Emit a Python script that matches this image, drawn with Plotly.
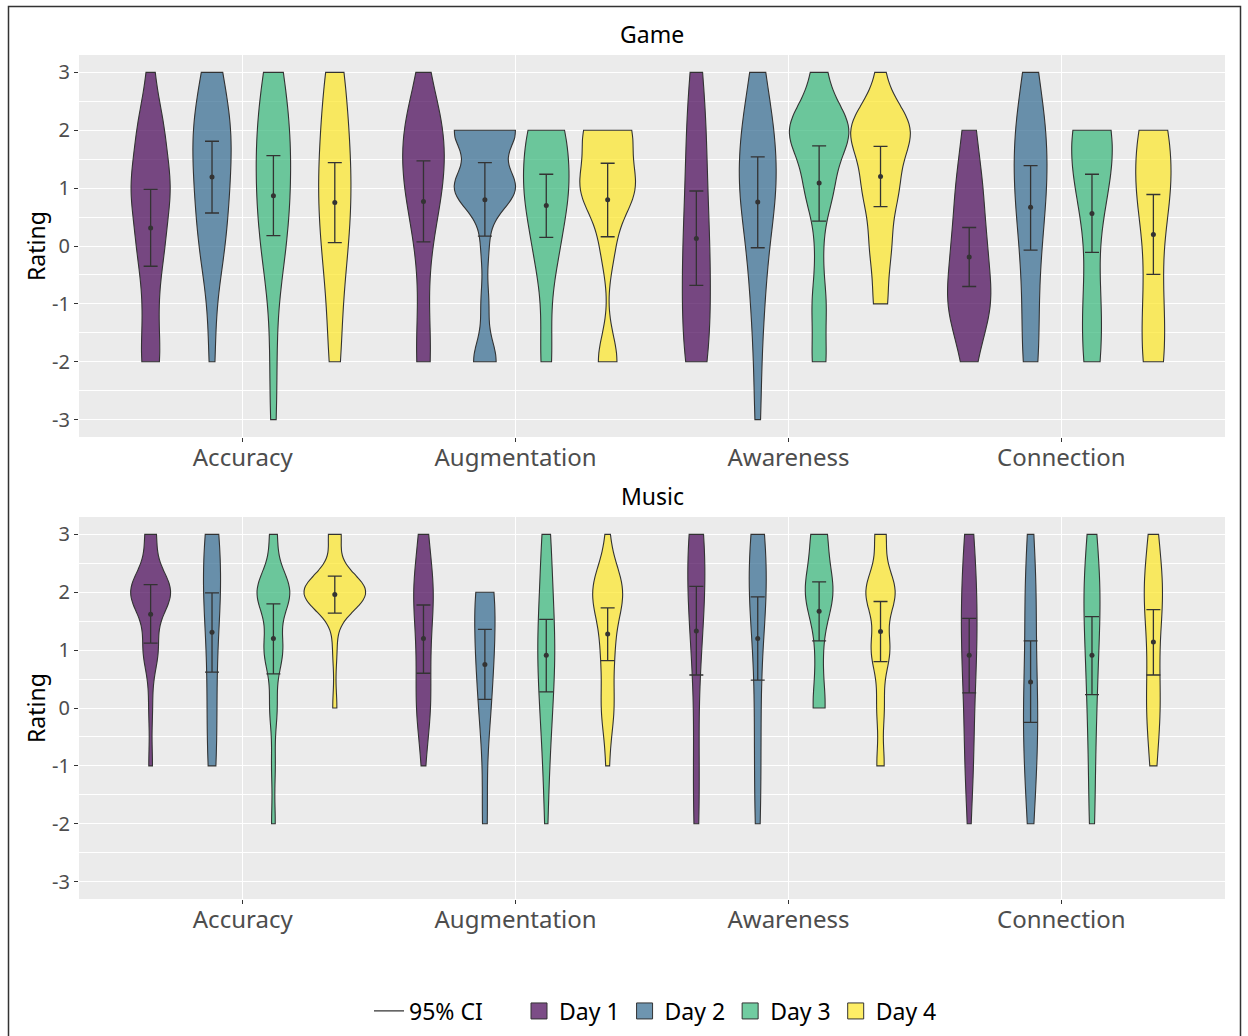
import numpy as np
import plotly.graph_objects as go

# ---------------- data ----------------
categories = ["Accuracy", "Augmentation", "Awareness", "Connection"]
days = ["Day 1", "Day 2", "Day 3", "Day 4"]
rating_levels = [-3, -2, -1, 0, 1, 2, 3]
y_ticks = [-3, -2, -1, 0, 1, 2, 3]

# number of responses at each rating level (-3..3); one row per day
game_accuracy_counts = [[0, 3, 2, 4, 6, 4, 1], [0, 1, 1, 4, 5, 6, 3],
                        [1, 1, 1, 4, 5, 5, 3], [0, 2, 2, 4, 5, 4, 3]]
game_augmentation_counts = [[0, 3, 1, 2, 6, 7, 1], [0, 3, 1, 1, 8, 8, 0],
                            [0, 2, 1, 4, 7, 6, 0], [0, 3, 0, 2, 8, 7, 0]]
game_awareness_counts = [[0, 4, 4, 4, 3, 3, 2], [1, 1, 2, 3, 6, 5, 2],
                         [0, 2, 2, 1, 4, 9, 2], [0, 0, 2, 3, 5, 9, 1]]
game_connection_counts = [[0, 2, 7, 5, 4, 2, 0], [0, 3, 2, 3, 5, 5, 2],
                          [0, 3, 3, 1, 5, 8, 0], [0, 4, 3, 2, 6, 5, 0]]
music_accuracy_counts = [[0, 0, 1, 1, 4, 11, 3], [0, 0, 3, 3, 3, 6, 5],
                         [0, 1, 1, 2, 5, 9, 2], [0, 0, 0, 1, 1, 15, 3]]
music_augmentation_counts = [[0, 0, 1, 5, 4, 7, 3], [0, 2, 1, 4, 6, 7, 0],
                             [0, 1, 2, 4, 6, 4, 3], [0, 0, 1, 4, 4, 10, 1]]
music_awareness_counts = [[0, 2, 2, 1, 3, 6, 6], [0, 2, 2, 2, 2, 7, 5],
                          [0, 0, 0, 4, 2, 9, 5], [0, 0, 2, 2, 5, 8, 3]]
music_connection_counts = [[0, 1, 3, 3, 5, 5, 3], [0, 2, 4, 5, 3, 4, 2],
                           [0, 2, 2, 3, 4, 6, 3], [0, 0, 2, 5, 3, 7, 3]]

# means and 95% CI (rows: categories, columns: days)
game_mean = [[0.31, 1.19, 0.87, 0.75], [0.77, 0.80, 0.70, 0.80],
             [0.13, 0.76, 1.09, 1.20], [-0.19, 0.67, 0.56, 0.20]]
game_ci_low = [[-0.35, 0.57, 0.18, 0.06], [0.07, 0.17, 0.15, 0.16],
               [-0.68, -0.03, 0.43, 0.68], [-0.70, -0.07, -0.11, -0.49]]
game_ci_high = [[0.98, 1.81, 1.56, 1.44], [1.47, 1.44, 1.24, 1.43],
                [0.95, 1.54, 1.73, 1.72], [0.32, 1.39, 1.24, 0.89]]
music_mean = [[1.62, 1.31, 1.20, 1.96], [1.20, 0.75, 0.91, 1.28],
              [1.33, 1.20, 1.67, 1.32], [0.91, 0.45, 0.91, 1.14]]
music_ci_low = [[1.12, 0.62, 0.59, 1.64], [0.60, 0.15, 0.28, 0.82],
                [0.57, 0.48, 1.16, 0.80], [0.26, -0.25, 0.23, 0.57]]
music_ci_high = [[2.13, 1.99, 1.80, 2.28], [1.78, 1.36, 1.53, 1.73],
                 [2.10, 1.92, 2.18, 1.84], [1.55, 1.16, 1.58, 1.70]]

# ---------------- styling ----------------
FONT = "Noto Sans"
day_fill = ["rgba(68,1,84,0.7)", "rgba(49,104,142,0.7)",
            "rgba(53,183,121,0.7)", "rgba(253,231,37,0.7)"]
OUTLINE = "#333333"
DODGE = 0.225


def bw_nrd0(x):
    x = np.asarray(x, dtype=float)
    hi = np.std(x, ddof=1)
    iqr = np.quantile(x, 0.75) - np.quantile(x, 0.25)
    lo = min(hi, iqr / 1.34)
    if not lo:
        lo = hi or abs(x[0]) or 1.0
    return 0.9 * lo * len(x) ** (-0.2)


fig = go.Figure()

# legend entries
fig.add_trace(go.Scatter(x=[None], y=[None], mode="lines", name="95% CI",
                         line=dict(color=OUTLINE, width=1.3), legend="legend"))
for di, day in enumerate(days):
    fig.add_trace(go.Scatter(x=[None], y=[None], mode="markers", name=day,
                             legend="legend2",
                             marker=dict(symbol="square", size=20, color=day_fill[di],
                                         line=dict(color=OUTLINE, width=1))))

panels = [
    ("Game", [game_accuracy_counts, game_augmentation_counts, game_awareness_counts,
              game_connection_counts], game_mean, game_ci_low, game_ci_high, "x", "y"),
    ("Music", [music_accuracy_counts, music_augmentation_counts, music_awareness_counts,
               music_connection_counts], music_mean, music_ci_low, music_ci_high, "x2", "y2"),
]

for pname, counts, mean, lo, hi, xa, ya in panels:
    for ci in range(len(categories)):
        for di in range(len(days)):
            samples = np.repeat(rating_levels, counts[ci][di]).astype(float)
            xpos = ci + 1 + (di - 1.5) * DODGE
            fig.add_trace(go.Violin(
                x=np.full(len(samples), xpos), y=samples,
                scalegroup=pname, scalemode="width", spanmode="hard",
                bandwidth=bw_nrd0(samples), points=False,
                fillcolor=day_fill[di], line=dict(color=OUTLINE, width=1.1),
                showlegend=False, hoverinfo="skip", xaxis=xa, yaxis=ya,
                name=days[di]))
    for di in range(len(days)):
        xs = [ci + 1 + (di - 1.5) * DODGE for ci in range(len(categories))]
        ys = [mean[ci][di] for ci in range(len(categories))]
        up = [hi[ci][di] - mean[ci][di] for ci in range(len(categories))]
        dn = [mean[ci][di] - lo[ci][di] for ci in range(len(categories))]
        fig.add_trace(go.Scatter(
            x=xs, y=ys, mode="markers", showlegend=False, xaxis=xa, yaxis=ya,
            marker=dict(size=5, color=OUTLINE),
            error_y=dict(type="data", symmetric=False, array=up, arrayminus=dn,
                         color=OUTLINE, thickness=1.3, width=7)))

W, H = 1248, 1036
ML, MR, MT, MB = 79, 23, 55, 137
PW, PH = W - ML - MR, H - MT - MB


def px_x(p):
    return (p - ML) / PW


def px_y(p):
    return (H - MB - p) / PH


game_dom = [px_y(437), 1.0]
music_dom = [0.0, px_y(517)]

xaxis_common = dict(range=[0.4, 4.6], tickvals=[1, 2, 3, 4], ticktext=categories,
                    ticks="outside", ticklen=4, tickcolor=OUTLINE, tickwidth=1,
                    ticklabelstandoff=-5,
                    tickfont=dict(family=FONT, size=24, color="#4D4D4D"),
                    showgrid=True, gridcolor="white", gridwidth=1.3,
                    zeroline=False, showline=False, fixedrange=True,
                    automargin=False)
yaxis_common = dict(range=[-3.3, 3.3], tickmode="array", tickvals=y_ticks,
                    ticktext=[str(v) for v in y_ticks],
                    ticks="outside", ticklen=4, tickcolor=OUTLINE, tickwidth=1,
                    tickfont=dict(family=FONT, size=20, color="#4D4D4D"),
                    showgrid=True, gridcolor="white", gridwidth=1.3,
                    minor=dict(tickmode="array",
                               tickvals=[-2.5, -1.5, -0.5, 0.5, 1.5, 2.5],
                               showgrid=True, gridcolor="white", gridwidth=0.6,
                               ticks=""),
                    zeroline=False, showline=False, fixedrange=True,
                    automargin=False)

legend_common = dict(orientation="h", xanchor="left", y=px_y(1011), yanchor="middle",
                     font=dict(family=FONT, size=23, color="black"),
                     itemwidth=30, bgcolor="rgba(0,0,0,0)", traceorder="normal")

fig.update_layout(
    width=W, height=H, autosize=False,
    margin=dict(l=ML, r=MR, t=MT, b=MB, autoexpand=False),
    paper_bgcolor="white", plot_bgcolor="#EBEBEB",
    font=dict(family=FONT, color="black"),
    violinmode="overlay", violingap=0, violingroupgap=0,
    xaxis=dict(anchor="y", domain=[0, 1], **xaxis_common),
    yaxis=dict(anchor="x", domain=game_dom, **yaxis_common),
    xaxis2=dict(anchor="y2", domain=[0, 1], **xaxis_common),
    yaxis2=dict(anchor="x2", domain=music_dom, **yaxis_common),
    legend=dict(x=px_x(369), **legend_common),
    legend2=dict(x=px_x(519), **legend_common),
    showlegend=True,
)

fig.add_annotation(text="Game", x=0.5, y=px_y(34), xref="paper", yref="paper",
                   xanchor="center", yanchor="middle", showarrow=False,
                   font=dict(family=FONT, size=23, color="black"))
fig.add_annotation(text="Music", x=0.5, y=px_y(496), xref="paper", yref="paper",
                   xanchor="center", yanchor="middle", showarrow=False,
                   font=dict(family=FONT, size=23, color="black"))
for yc in [(55 + 437) / 2, (517 + 899) / 2]:
    fig.add_annotation(text="Rating", x=px_x(36), y=px_y(yc), xref="paper", yref="paper",
                       xanchor="center", yanchor="middle",
                       textangle=-90, showarrow=False,
                       font=dict(family=FONT, size=23, color="black"))

fig.add_shape(type="rect", xref="paper", yref="paper",
              x0=px_x(8.5), x1=px_x(1240.5), y0=px_y(1045), y1=px_y(6.5),
              line=dict(color="#333333", width=1.5), fillcolor="rgba(0,0,0,0)",
              layer="above")

fig.write_html("out.html",
               config={"displayModeBar": False, "responsive": False},
               post_script="document.body.style.margin='0px';"
                           "document.body.style.overflow='hidden';")
